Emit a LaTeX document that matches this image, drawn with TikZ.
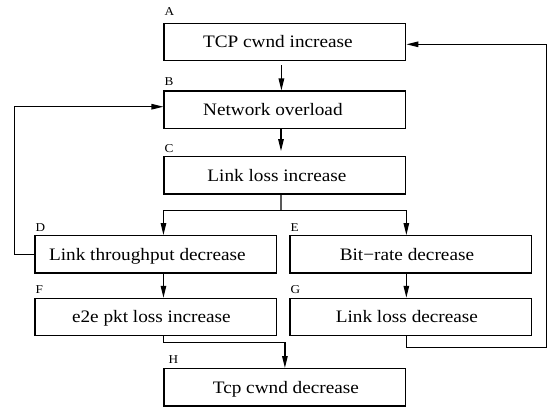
\documentclass[tikz,border=0pt]{standalone}
\usepackage{fontspec}
\setmainfont{Liberation Serif}
\usepackage{graphicx}
\usetikzlibrary{arrows.meta}
\newcommand{\bt}[2]{\makebox[0pt]{\hspace*{#1}\scalebox{1.1}[1]{#2}}}
\newcommand{\lt}[1]{\scalebox{1.1}[1]{#1}}
\begin{document}
\begin{tikzpicture}[x=1bp,y=-1bp,
  box/.style={draw, line width=1.2bp, minimum width=241.7bp, minimum height=37.3bp,
              inner sep=0pt, text height=11.5bp, text depth=0pt,
              font=\fontsize{17.5bp}{20bp}\selectfont},
  lbl/.style={inner sep=0pt, anchor=base west, font=\fontsize{12bp}{14bp}\selectfont},
  conn/.style={line width=1.2bp},
  arr/.style={conn, -{Triangle[length=12bp,width=5.5bp]}}]
\useasboundingbox[fill=white] (0,0) rectangle (550,412);
% boxes
\node[box] (A) at (284.9,42)    {\bt{-14bp}{TCP cwnd increase}};
\node[box] (B) at (284.9,109.7) {\bt{-24bp}{Network overload}};
\node[box] (C) at (284.9,175.3) {\bt{-16bp}{Link loss increase}};
\node[box] (D) at (155.9,254.3) {\bt{-17bp}{Link throughput decrease}};
\node[box] (E) at (410.9,254.3) {\bt{-8bp}{Bit−rate decrease}};
\node[box] (F) at (155.9,317)   {\bt{-9bp}{e2e pkt loss increase}};
\node[box] (G) at (410.9,317)   {\bt{-8bp}{Link loss decrease}};
\node[box] (H) at (284.9,387.3) {\bt{2bp}{Tcp cwnd decrease}};
% labels
\node[lbl] (lA) at ([shift={(1,-7)}]A.north west) {\lt{A}};
\node[lbl] (lB) at ([shift={(1,-5)}]B.north west) {\lt{B}};
\node[lbl] (lC) at ([shift={(1,-4)}]C.north west) {\lt{C}};
\node[lbl] (lD) at ([shift={(1,-3.5)}]D.north west) {\lt{D}};
\node[lbl] (lE) at ([shift={(1,-3.5)}]E.north west) {\lt{E}};
\node[lbl] (lF) at ([shift={(1,-4)}]F.north west) {\lt{F}};
\node[lbl] (lG) at ([shift={(1,-4)}]G.north west) {\lt{G}};
\node[lbl] (lH) at ([shift={(5,-4.5)}]H.north west) {\lt{H}};
% connectors
\coordinate (cj) at (281,210.7);
\coordinate (gr) at (546.7,347.7);
\coordinate (dl) at (14.7,254.3);
\draw[arr] ([xshift=-3.5bp,yshift=-4bp]A.south) -- ([xshift=-3.5bp]B.north);
\draw[arr] ([xshift=-3.9bp]B.south) -- ([xshift=-3.9bp,yshift=5bp]C.north);
\draw[conn] ([xshift=-3.9bp]C.south) -- (cj);
\draw[arr] (cj) -| (D.north -| C.west);
\draw[arr] (cj) -| (E.north -| C.east);
\draw[arr] (D.south -| C.west) -- (F.north -| C.west);
\draw[arr] (E.south -| C.east) -- (G.north -| C.east);
\draw[arr] (F.south -| H.west) |- ([yshift=25.4bp]H.north) -- (H.north);
\draw[arr] (G.south -| H.east) |- (gr) |- ([yshift=-2.3bp]A.east);
\draw[arr] (D.west) -- (dl) |- ([yshift=3bp]B.west);
\end{tikzpicture}
\end{document}
